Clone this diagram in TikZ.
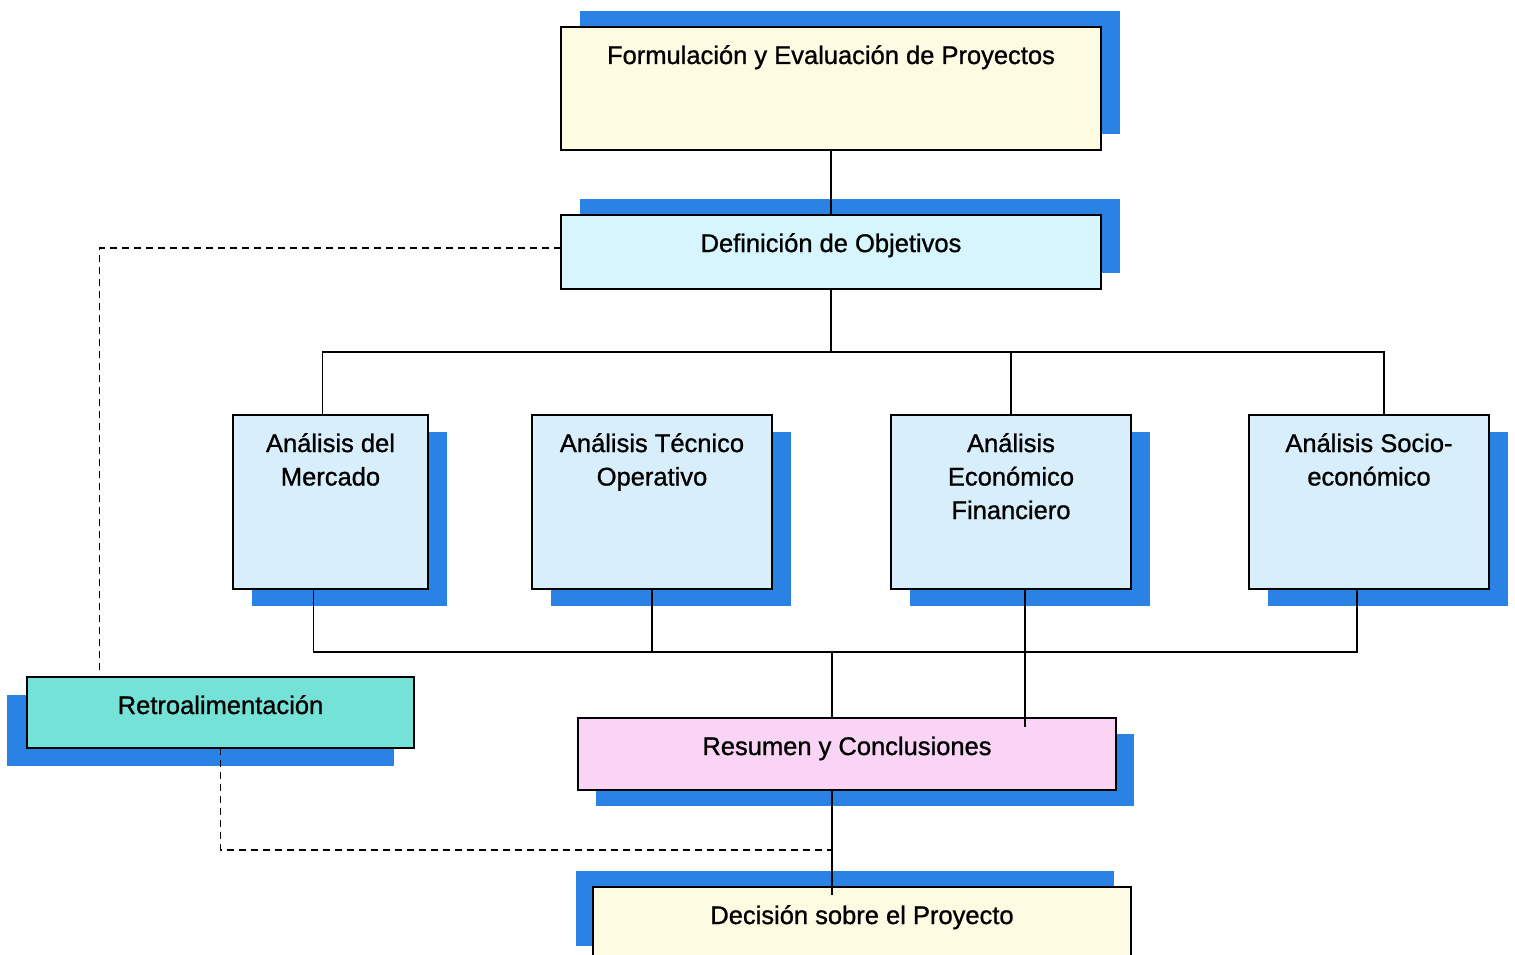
\documentclass[tikz,border=0pt]{standalone}
\usepackage{fontspec}
\setmainfont[FakeBold=1]{Liberation Sans}
\usetikzlibrary{positioning,shadows}
\definecolor{shblue}{RGB}{42,130,228}
\definecolor{paleyellow}{RGB}{253,251,226}
\definecolor{palecyan}{RGB}{214,245,252}
\definecolor{palesky}{RGB}{216,238,250}
\definecolor{turq}{RGB}{116,226,214}
\definecolor{palepink}{RGB}{249,212,245}
\tikzset{
	box/.style={draw,line width=1.6pt,inner sep=0pt,outer sep=0pt},
	boxtext/.style={anchor=base,yshift=-37pt-33.5pt*(#1-1),align=center,inner sep=0pt,
		font=\fontsize{25.5}{33.5}\selectfont},
	boxtext/.default=1,
	sh/.style 2 args={drop shadow={shadow xshift=#1,shadow yshift=#2,fill=shblue,opacity=1}},
	ana/.style={box,fill=palesky,minimum width=240pt,minimum height=174pt,sh={19pt}{-17pt}},
	link/.style={line width=1.3pt},
	feedback/.style={line width=1.3pt,dash pattern=on 7pt off 5pt}
}
\begin{document}
\begin{tikzpicture}[x=1pt,y=-1pt,node distance=65pt and 104pt]
      \useasboundingbox (0,0) rectangle (1515,955);
      \node [box,fill=paleyellow,minimum width=540pt,minimum height=123pt,sh={19pt}{16pt},
        label={[boxtext]north:Formulación y Evaluación de Proyectos}] (form) at (831,88.5) {};
      \node [box,fill=palecyan,minimum width=540pt,minimum height=74pt,sh={19pt}{16pt},
        below=of form,label={[boxtext]north:Definición de Objetivos}] (obj) {};
      \node [ana,minimum width=195pt,label={[boxtext=2]north:Análisis del\\Mercado}] (merc) at (330.5,502) {};
      \node [ana,right=of merc,label={[boxtext=2]north:Análisis Técnico\\Operativo}] (tec) {};
      \node [ana,right=119pt of tec,label={[boxtext=3]north:Análisis\\Económico\\Financiero}] (eco) {};
      \node [ana,right=118pt of eco,label={[boxtext=2]north:Análisis Socio-\\económico}] (soc) {};
      \node [box,fill=turq,minimum width=387pt,minimum height=71pt,sh={-20pt}{-18pt},
        label={[boxtext]north:Retroalimentación}] (retro) at (220.5,712.5) {};
      \node [box,fill=palepink,minimum width=538pt,minimum height=72pt,sh={18pt}{-16pt},
        label={[boxtext]north:Resumen y Conclusiones}] (res) at (847,754) {};
      \node [box,fill=paleyellow,minimum width=538pt,minimum height=75pt,sh={-17pt}{16pt},
        below=97pt of res,xshift=15pt,label={[boxtext]north:Decisión sobre el Proyecto}] (dec) {};
      \coordinate (topbus) at (831,352);
      \coordinate (lowbus) at (832,652);
      \coordinate (fbjoin) at (832,850);
      \draw [link] (form) -- (obj);
      \draw [link] (obj.south) -- (topbus);
      \draw [link] ([xshift=-8pt]merc.north) |- (topbus) -| ([xshift=15pt]soc.north);
      \draw [link] (eco.north) -- (eco.north |- topbus);
      \draw [link] ([xshift=-17pt]merc.south) |- (lowbus) -| ([xshift=-12pt]soc.south);
      \draw [link] (tec.south) -- (tec.south |- lowbus);
      \draw [link] (lowbus) -- (lowbus |- res.north);
      \draw [link] ([xshift=14pt]eco.south) -- ([xshift=14pt,yshift=-9pt]eco.south |- res.north);
      \draw [link] (lowbus |- res.south) -- ([yshift=-8pt]lowbus |- dec.north);
      \draw [feedback] ([yshift=4pt]obj.west) -| ([xshift=-121pt,yshift=5pt]retro.north);
      \draw [feedback] (retro.south) |- (fbjoin);
   \end{tikzpicture}
\end{document}
